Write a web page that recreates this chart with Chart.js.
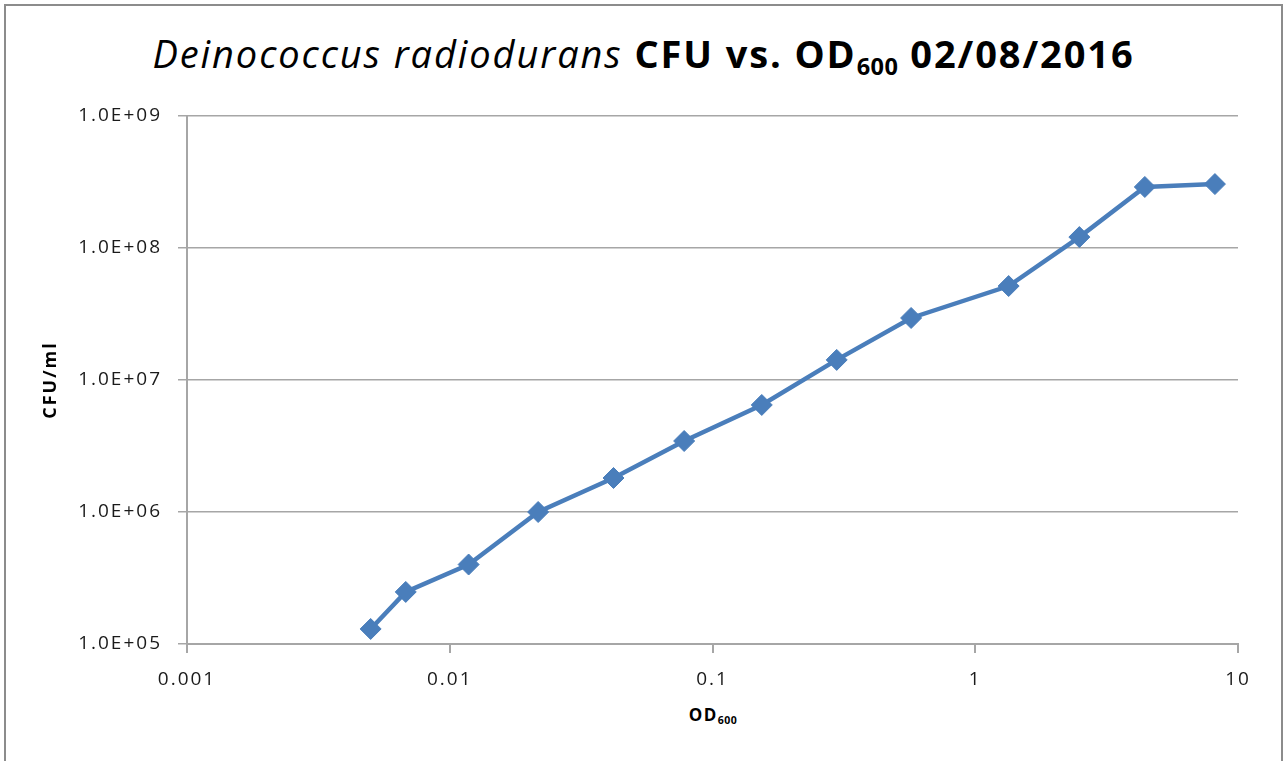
<!DOCTYPE html>
<html>
<head>
<meta charset="utf-8">
<script src="https://cdn.jsdelivr.net/npm/chart.js@4.4.1/dist/chart.umd.min.js"></script>
<style>
  body { margin: 0; background: #fff; }
  #wrap { position: relative; width: 1287px; height: 761px; overflow: hidden; font-family: 'Open Sans', sans-serif; color: #000; }
  #frame { position: absolute; left: 4px; top: 4px; width: 1275px; height: 800px; border: 2px solid #8c8c8c; border-bottom: none; }
  #title { position: absolute; left: 0; width: 1287px; top: 34px; text-align: center; font-size: 38px; line-height: 1; letter-spacing: 1.9px; white-space: nowrap; }
  #title i { font-weight: 400; }
  #title b { font-weight: 700; }
  #title sub, #xtitle sub { font-size: 62%; vertical-align: -0.3em; line-height: 0; letter-spacing: 0.5px; }
  #xtitle { position: absolute; left: 0; width: 1426px; top: 706px; text-align: center; font-size: 17px; font-weight: 700; letter-spacing: 1.5px; line-height: 1; }
  canvas { position: absolute; left: 0; top: 0; }
</style>
</head>
<body>
<div id="wrap">
  <div id="frame"></div>
  <div id="title"><i>Deinococcus radiodurans</i> <b>CFU vs. OD<sub>600</sub> 02/08/2016</b></div>
  <div id="xtitle">OD<sub>600</sub></div>
  <canvas id="c" width="1287" height="761"></canvas>
</div>
<script>
// OD600 readings and plate counts (CFU/ml)
const od600 = [0.005, 0.0068, 0.0118, 0.0217, 0.042, 0.078, 0.154, 0.297, 0.57, 1.34, 2.49, 4.42, 8.17];
const cfuPerMl = [1.3e5, 2.48e5, 4.0e5, 1.0e6, 1.81e6, 3.45e6, 6.47e6, 1.42e7, 2.95e7, 5.15e7, 1.21e8, 2.9e8, 3.05e8];

const xTickValues = [0.001, 0.01, 0.1, 1, 10];
const xTickLabels = ['0.001', '0.01', '0.1', '1', '10'];
const yTickValues = [1e5, 1e6, 1e7, 1e8, 1e9];
const yTickLabels = ['1.0E+05', '1.0E+06', '1.0E+07', '1.0E+08', '1.0E+09'];

const blue = '#4a7ebb';
const grey = '#a6a6a6';

// canvas letter spacing so the tick text gets the wide look of the original
const spacing = {
  id: 'spacing',
  beforeLayout(chart) { chart.ctx.letterSpacing = '2px'; },
  beforeDraw(chart) { chart.ctx.letterSpacing = '2px'; }
};

new Chart(document.getElementById('c'), {
  type: 'line',
  data: {
    datasets: [{
      data: od600.map((x, i) => ({ x, y: cfuPerMl[i] })),
      borderColor: blue,
      backgroundColor: blue,
      borderWidth: 4.5,
      pointStyle: 'rectRot',
      pointRadius: 10.5,
      pointBorderWidth: 1,
      pointBorderColor: blue,
      tension: 0
    }]
  },
  options: {
    responsive: false,
    animation: false,
    layout: { padding: { top: 116, right: 49, left: 0, bottom: 0 } },
    plugins: { legend: { display: false }, tooltip: { enabled: false } },
    scales: {
      x: {
        type: 'logarithmic',
        min: 0.001,
        max: 10,
        afterBuildTicks: (s) => { s.ticks = xTickValues.map((v) => ({ value: v })); },
        afterFit: (s) => { s.height = 117; },
        border: { color: grey, width: 2 },
        grid: { drawOnChartArea: false, color: grey, tickLength: 9, lineWidth: 2 },
        ticks: {
          autoSkip: false, maxRotation: 0, padding: 15, color: '#1a1a1a',
          font: { family: 'Open Sans', size: 19 },
          callback: (v, i) => xTickLabels[i]
        }
      },
      y: {
        type: 'logarithmic',
        min: 1e5,
        max: 1e9,
        afterBuildTicks: (s) => { s.ticks = yTickValues.map((v) => ({ value: v })); },
        afterFit: (s) => { s.width = 187; },
        border: { color: grey, width: 2 },
        grid: { color: grey, tickLength: 9, lineWidth: 1.5 },
        ticks: {
          autoSkip: false, padding: 16, color: '#1a1a1a',
          font: { family: 'Open Sans', size: 19 },
          callback: (v, i) => yTickLabels[i]
        },
        title: {
          display: true, text: 'CFU/ml', color: '#000',
          font: { family: 'Open Sans', size: 18, weight: 'bold' },
          padding: { top: 40, bottom: 0 }
        }
      }
    }
  },
  plugins: [spacing]
});
</script>
</body>
</html>
